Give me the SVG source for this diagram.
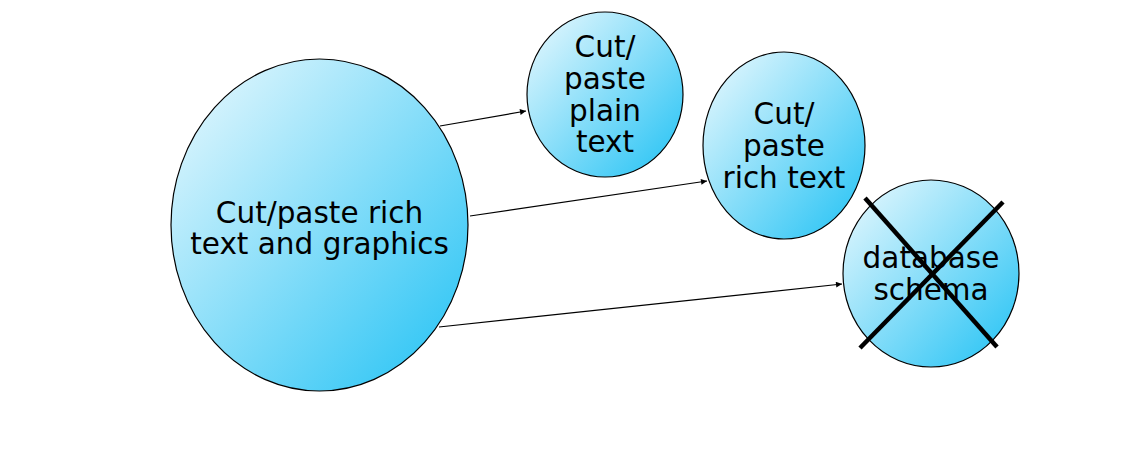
<svg xmlns="http://www.w3.org/2000/svg" width="1142" height="466" viewBox="0 0 1142 466">
<style>
.node{stroke:#000;stroke-width:1.2;fill:url(#g)}
.lbl{font-family:"DejaVu Sans",Verdana,sans-serif;font-size:29.5px;fill:#000;text-anchor:middle}
.edge{stroke:#000;stroke-width:1.2;fill:none;marker-end:url(#arr)}
.cross{stroke:#000;stroke-width:4.5;stroke-linecap:butt}
</style>
<defs>
<linearGradient id="g" x1="0" y1="0" x2="1" y2="1">
<stop offset="0" stop-color="#eefafe"/>
<stop offset="1" stop-color="#1fc1f4"/>
</linearGradient>
<marker id="arr" viewBox="0 0 10 10" refX="10" refY="5" markerWidth="8" markerHeight="6" markerUnits="userSpaceOnUse" orient="auto">
<path d="M0,0 L10,5 L0,10 z" fill="#000"/>
</marker>
</defs>
<rect width="1142" height="466" fill="#fff"/>
<g id="node-rich-graphics">
<ellipse class="node" cx="319.5" cy="225" rx="148.5" ry="166"/>
<text class="lbl" x="319.5" y="223">Cut/paste rich</text>
<text class="lbl" x="319.5" y="254">text and graphics</text>
</g>
<g id="node-plain-text">
<ellipse class="node" cx="605" cy="94.5" rx="78" ry="82.5"/>
<text class="lbl" x="605" y="57">Cut/</text>
<text class="lbl" x="605" y="89">paste</text>
<text class="lbl" x="605" y="121">plain</text>
<text class="lbl" x="605" y="152">text</text>
</g>
<g id="node-rich-text">
<ellipse class="node" cx="784" cy="145.5" rx="81" ry="93.5"/>
<text class="lbl" x="784" y="124">Cut/</text>
<text class="lbl" x="784" y="156">paste</text>
<text class="lbl" x="784" y="188">rich text</text>
</g>
<g id="node-database-schema">
<ellipse class="node" cx="931" cy="273.5" rx="88" ry="93.5"/>
<text class="lbl" x="931" y="268">database</text>
<text class="lbl" x="931" y="300">schema</text>
<line class="cross" x1="865" y1="198" x2="997" y2="347"/>
<line class="cross" x1="1003" y1="202" x2="860" y2="348"/>
</g>
<g id="connectors">
<line class="edge" x1="440" y1="126" x2="526" y2="111"/>
<line class="edge" x1="470" y1="216" x2="707" y2="181"/>
<line class="edge" x1="439" y1="327" x2="842" y2="284"/>
</g>
</svg>
